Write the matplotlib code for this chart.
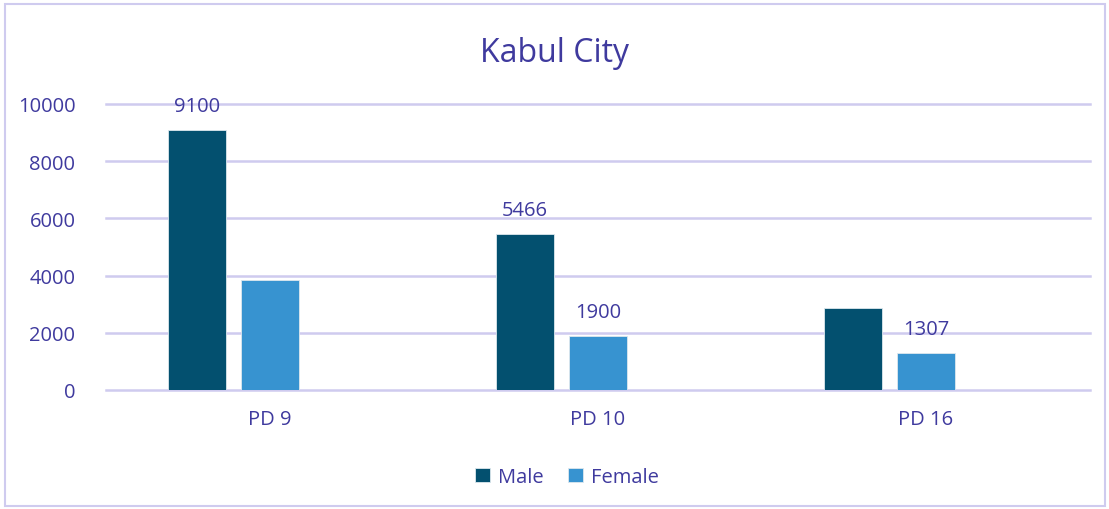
import matplotlib.pyplot as plt
import numpy as np
from matplotlib.patches import Rectangle

categories = ["PD 9", "PD 10", "PD 16"]
male = [9100, 5466, 2870]
female = [3860, 1900, 1307]
# only these bars carry a value label in the original
male_labels = ["9100", "5466", ""]
female_labels = ["", "1900", "1307"]

txt = "#3F3A9E"
grid_c = "#CFCBEF"
plt.rcParams["font.family"] = ["Open Sans", "DejaVu Sans"]

fig = plt.figure(figsize=(11.09, 5.10), dpi=100)
ax = fig.add_axes([106/1109, 1-391/510, 984/1109, 286/510])

x = np.arange(len(categories))
step = 0.2226
w = 0.174
b1 = ax.bar(x - step, male, w, color="#03506F", edgecolor="#DDE8EE", linewidth=0.6, label="Male", zorder=3)
b2 = ax.bar(x, female, w, color="#3793D0", edgecolor="#DDE8EE", linewidth=0.6, label="Female", zorder=3)
ax.bar_label(b1, labels=male_labels, padding=10, color=txt, fontsize=14.5)
ax.bar_label(b2, labels=female_labels, padding=10, color=txt, fontsize=14.5)

ax.set_xlim(-0.5, 2.5)
ax.set_ylim(0, 10000)
ax.set_yticks(np.arange(0, 10001, 2000))
ax.set_xticks(x)
ax.set_xticklabels(categories)
ax.tick_params(axis="both", length=0, labelsize=14.5, labelcolor=txt)
ax.tick_params(axis="x", pad=14)
ax.tick_params(axis="y", pad=22)
ax.grid(axis="y", color=grid_c, linewidth=1.8, zorder=0)
for gl in ax.get_ygridlines():
    gl.set_clip_on(False)
for s in ax.spines.values():
    s.set_visible(False)

fig.text(0.5, 1-53/510, "Kabul City", ha="center", va="center", fontsize=23, color=txt)
fig.legend(handles=[b1, b2], loc="center", bbox_to_anchor=(0.511, 1-478/510), ncol=2, frameon=False,
           fontsize=14.5, labelcolor=txt, handlelength=0.75, handleheight=0.75, handletextpad=0.4,
           columnspacing=1.2)

fig.patches.append(Rectangle((5/1109, 3/510), 1100/1109, 502/510, transform=fig.transFigure,
                             fill=False, edgecolor=grid_c, linewidth=1.5))

fig.savefig("out.png", dpi=100)
